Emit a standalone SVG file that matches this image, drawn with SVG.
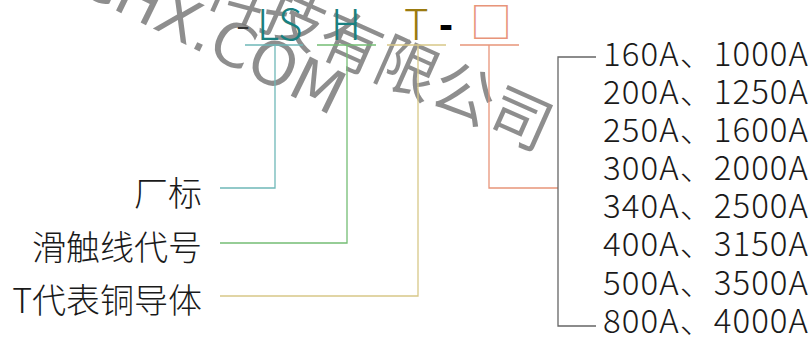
<svg xmlns="http://www.w3.org/2000/svg" width="811" height="338" viewBox="0 0 811 338">
<style>
.t{font-family:"Noto Sans CJK SC","Noto Sans",sans-serif;font-weight:300;fill:#1a1a1a}
.lab{font-size:34px;text-anchor:end}
.val{font-size:33px}
.hd{font-family:"Noto Sans CJK SC","Noto Sans",sans-serif;font-weight:300;font-size:42px}
.ln{fill:none;stroke-width:1.3}
.wm{font-family:"Noto Sans CJK SC","DejaVu Sans",sans-serif;font-size:62px;fill:#7a7a7a;fill-opacity:0.85}
.wl{font-family:"DejaVu Sans",sans-serif;font-size:60px;fill:#7a7a7a;fill-opacity:0.85}
</style>
<rect width="811" height="338" fill="#ffffff"/>
<g id="watermark">
<text class="wm" transform="translate(540 152) rotate(24)" text-anchor="end">科技有限公司</text>
<text class="wl" transform="translate(332 116) rotate(26)" text-anchor="end">CHX.COM</text>
</g>
<g id="header">
<text class="hd" x="236" y="40" fill="#333">-</text>
<text class="hd" x="257" y="40" fill="#1a8080">LS</text>
<text class="hd" x="331" y="40" fill="#1a8080">H</text>
<text class="hd" x="404" y="40" fill="#9b7b10">T</text>
<text x="439" y="39" style="font-family:'Liberation Sans',sans-serif;font-weight:bold;font-size:42px" fill="#000">-</text>
<text x="470" y="38" style="font-family:'Noto Sans CJK SC',sans-serif;font-size:42px" fill="#e8957a">□</text>
</g>
<g id="labels">
<text class="t lab" x="202" y="206">厂标</text>
<text class="t lab" x="202" y="260">滑触线代号</text>
<text class="t lab" x="202" y="313">T代表铜导体</text>
</g>
<g id="values" class="t val">
<text x="603" y="66" textLength="205">160A、1000A</text>
<text x="603" y="104" textLength="205">200A、1250A</text>
<text x="603" y="142" textLength="205">250A、1600A</text>
<text x="603" y="180" textLength="205">300A、2000A</text>
<text x="603" y="218" textLength="205">340A、2500A</text>
<text x="603" y="256" textLength="205">400A、3150A</text>
<text x="603" y="295" textLength="205">500A、3500A</text>
<text x="603" y="333" textLength="205">800A、4000A</text>
</g>
<g id="connectors">
<path class="ln" stroke="#6fb8b8" d="M245 45H303M275 45V188H220"/>
<path class="ln" stroke="#74bd74" d="M317 45H376M347 45V243H220"/>
<path class="ln" stroke="#d8c888" d="M387 45H446M418 45V296H220"/>
<path class="ln" stroke="#e8957a" d="M460 45H519M489 45V188H558"/>
<path class="ln" stroke="#666" d="M596 57H558V326H596"/>
</g>
</svg>
